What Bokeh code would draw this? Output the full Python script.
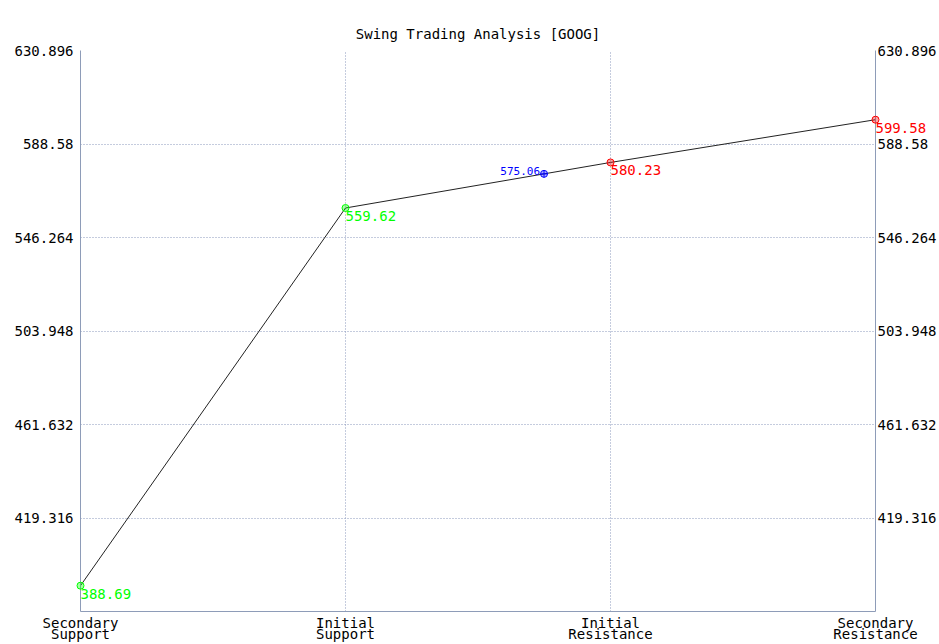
import numpy as np
from bokeh.plotting import figure
from bokeh.models import Range1d, FixedTicker, LinearAxis, ColumnDataSource
from bokeh.core.properties import value
from bokeh.embed import file_html
from bokeh.resources import INLINE

# ---- data ----
categories = ["Secondary\nSupport", "Initial\nSupport",
              "Initial\nResistance", "Secondary\nResistance"]
levels = [388.69, 559.62, 580.23, 599.58]
level_labels = ["388.69", "559.62", "580.23", "599.58"]
level_colors = ["#00ff00", "#00ff00", "#ff0000", "#ff0000"]
current_price = 575.06
current_label = "575.06"
y_ticks = [419.316, 461.632, 503.948, 546.264, 588.58, 630.896]
y_tick_labels = ["419.316", "461.632", "503.948", "546.264", "588.58", "630.896"]
y_min = 377.0
title_text = "Swing Trading Analysis [GOOG]"

FONT = "DejaVu Sans Mono"
GRID = "#8a98bc"
AXIS = "#8e9cb8"

xs = list(range(len(categories)))
cur_x = float(np.interp(current_price, levels[1:3], xs[1:3]))

p = figure(width=939, height=644, output_backend="svg", toolbar_location=None,
           x_range=Range1d(0, len(categories) - 1),
           y_range=Range1d(y_min, y_ticks[-1]),
           min_border_top=50, min_border_left=80, min_border_right=63,
           min_border_bottom=33)
p.outline_line_color = None
p.background_fill_color = "white"
p.border_fill_color = "white"

# axes
p.xaxis.ticker = FixedTicker(ticks=xs)
p.xaxis.major_label_overrides = {i: c for i, c in zip(xs, categories)}
p.yaxis.ticker = FixedTicker(ticks=y_ticks)
p.yaxis.major_label_overrides = {t: l for t, l in zip(y_ticks, y_tick_labels)}
right = LinearAxis(ticker=FixedTicker(ticks=y_ticks),
                   major_label_overrides={t: l for t, l in zip(y_ticks, y_tick_labels)})
p.add_layout(right, "right")

for ax in [p.xaxis[0], p.yaxis[0], right]:
    ax.axis_line_color = AXIS
    ax.axis_line_width = 1
    ax.major_tick_out = 0
    ax.major_tick_in = 0
    ax.minor_tick_out = 0
    ax.minor_tick_in = 0
    ax.major_label_text_font = FONT
    ax.major_label_text_font_size = "14px"
    ax.major_label_text_color = "black"
p.yaxis[0].major_label_standoff = 7
right.major_label_standoff = 2
p.xaxis[0].major_label_text_line_height = 0.7
p.xaxis[0].major_label_standoff = 3

p.xgrid.ticker = FixedTicker(ticks=xs)
p.ygrid.ticker = FixedTicker(ticks=y_ticks)
for g in [p.xgrid[0], p.ygrid[0]]:
    g.grid_line_color = GRID
    g.grid_line_dash = "1 2"
    g.grid_line_width = 1

# line and markers
p.line(xs, levels, line_color="#222222", line_width=1)
src = ColumnDataSource(dict(x=xs, y=levels, c=level_colors, t=level_labels))
p.scatter("x", "y", source=src, size=7, fill_color="c", fill_alpha=0.35,
          line_color="c", line_width=1, level="overlay")
p.text("x", "y", text="t", source=src, text_color="c",
       text_font=value(FONT), text_font_size=value("14px"),
       text_align="left", text_baseline="top", y_offset=3, level="overlay")

# current price
p.scatter([cur_x], [current_price], size=7, marker="circle_cross",
          fill_color="#0000ff", fill_alpha=0.3, line_color="#0000ff",
          level="overlay")
p.text([cur_x], [current_price], text=[current_label], text_color="#0000ff",
       text_font=value(FONT), text_font_size=value("11px"),
       text_align="right", text_baseline="middle",
       x_offset=-4, y_offset=-3, level="overlay")

# title
p.title.text = title_text
p.title.align = "center"
p.title.text_font = FONT
p.title.text_font_size = "14px"
p.title.text_font_style = "normal"
p.title.text_color = "black"
p.title.offset = 0
p.title.standoff = 17

open("out.html", "w").write(file_html(p, INLINE))
